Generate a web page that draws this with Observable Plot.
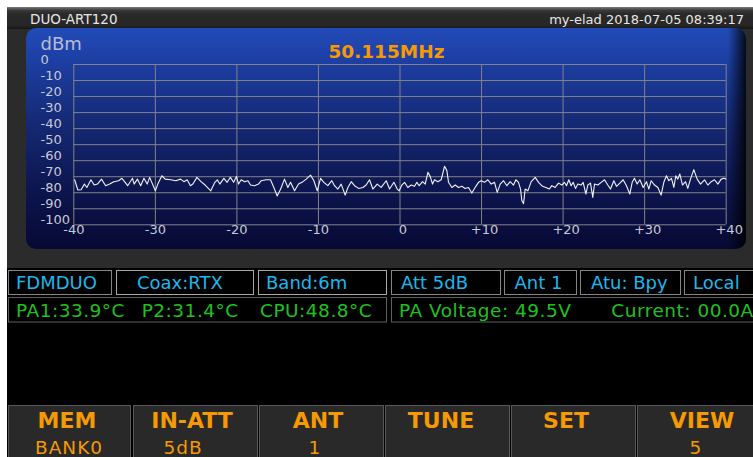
<!DOCTYPE html>
<html>
<head>
<meta charset="utf-8">
<script src="https://cdn.jsdelivr.net/npm/d3@7"></script>
<script src="https://cdn.jsdelivr.net/npm/@observablehq/plot@0.6"></script>
<style>
  html, body { margin: 0; padding: 0; background: #ffffff; }
  #wrap { position: relative; width: 753px; height: 457px; overflow: hidden; font-family: "DejaVu Sans", sans-serif; }
  #ui { position: absolute; left: 0; top: 0; }
  #chart { position: absolute; left: 27px; top: 28px; }
</style>
</head>
<body>
<div id="wrap"><svg id="ui" width="753" height="457"></svg><div id="chart"></div></div>
<script>
// ---------- data ----------
const freqMHzOffset = [
  -39.9,-39.5,-39.1,-38.7,-38.4,-37.9,-37.5,-37.1,-36.6,-36.1,-35.6,-35.1,-34.5,-34.1,-33.7,-33.4,-32.8,-32.6,-32.2,-31.8,
  -31.4,-31.0,-30.7,-30.0,-29.7,-29.2,-28.8,-28.1,-27.5,-26.9,-26.5,-26.1,-25.7,-25.4,-24.9,-24.4,-23.9,-23.2,-22.7,-22.4,
  -22.1,-21.6,-21.2,-20.8,-20.4,-20.05,
  -19.8,-19.47,-19.06,-18.65,-18.33,-17.84,-17.35,-17.02,-16.41,-15.88,-15.47,-15.06,-14.65,-14.16,-13.75,-13.42,-12.93,-12.44,
  -11.91,-11.5,-10.97,-10.56,-10.15,-9.74,-9.34,-8.85,-8.36,-8.03,-7.62,-7.21,-6.72,-6.39,-5.98,-5.58,-5.08,-4.55,-4.15,-3.74,
  -3.33,-2.8,-2.31,-1.69,-1.28,-0.75,-0.34,
  -0.10,0.23,0.56,0.96,1.37,1.78,2.07,2.35,2.76,3.09,3.42,3.70,3.99,4.23,4.64,5.05,5.46,5.75,5.95,6.36,6.77,7.18,7.59,7.99,
  8.40,8.81,9.30,9.63,9.96,10.37,10.77,11.18,11.59,11.92,12.29,12.70,13.10,13.51,13.92,14.21,14.53,14.78,14.94,15.15,15.35,
  15.68,16.09,16.58,16.99,17.48,17.89,18.30,18.62,19.03,19.44,19.85,
  20.17,20.42,20.70,20.99,21.23,21.52,21.81,22.21,22.46,22.79,23.03,23.36,23.64,23.85,24.26,24.67,25.08,25.48,25.81,26.22,
  26.55,26.96,27.36,27.77,28.18,28.47,28.75,29.08,29.41,29.82,30.23,30.51,30.80,31.21,31.62,32.02,32.35,32.68,32.96,33.29,
  33.58,33.82,34.07,34.31,34.64,35.01,35.29,35.62,36.03,36.44,36.85,37.34,37.75,38.16,38.57,38.98,39.39,39.71,39.95
];
const levelDbm = [
  -71.9,-78.3,-78.1,-74.6,-76.7,-71.9,-75.2,-74.6,-71.5,-75.6,-74.6,-73.1,-72.5,-71.0,-73.5,-75.6,-71.0,-74.6,-71.5,-75.6,
  -71.0,-74.6,-70.4,-78.8,-74.6,-69.4,-71.5,-71.9,-72.5,-71.5,-73.1,-71.9,-75.6,-74.6,-70.4,-73.1,-75.2,-78.8,-73.5,-71.9,
  -74.6,-71.0,-73.5,-70.4,-73.5,-69.8,
  -74.6,-71.9,-73.1,-72.5,-75.2,-75.6,-74.6,-72.5,-71.9,-71.9,-76.7,-82.0,-77.8,-71.5,-76.7,-73.5,-78.8,-74.6,
  -73.1,-71.5,-69.0,-72.5,-78.8,-71.0,-73.5,-75.6,-72.5,-75.6,-77.7,-74.6,-81.5,-76.7,-73.1,-75.6,-77.3,-76.7,-75.2,-71.9,
  -77.7,-74.6,-76.7,-72.5,-77.7,-73.5,-77.7,
  -78.8,-75.2,-73.5,-76.7,-75.2,-76.0,-73.5,-75.6,-73.1,-74.6,-67.3,-69.8,-74.6,-71.9,-73.1,-71.9,-63.5,-66.2,-73.5,-76.7,-75.2,-76.7,-76.0,-77.3,
  -76.7,-80.2,-76.0,-73.5,-72.5,-73.5,-71.9,-74.6,-73.5,-79.8,-74.6,-72.5,-75.6,-73.1,-75.2,-71.9,-73.5,-77.7,-84.9,-86.8,-77.7,
  -78.8,-73.1,-70.4,-73.5,-76.0,-76.7,-77.7,-75.6,-76.7,-74.0,-75.2,
  -73.5,-75.6,-71.9,-75.6,-73.5,-77.3,-74.6,-75.2,-73.5,-80.8,-75.2,-74.0,-82.9,-74.6,-75.2,-73.5,-71.9,-75.2,-77.7,-72.5,
  -76.0,-74.0,-71.9,-75.6,-80.8,-73.5,-71.0,-74.6,-71.9,-76.7,-73.1,-77.7,-72.5,-75.2,-76.7,-81.5,-73.5,-69.4,-72.5,-71.0,
  -76.7,-69.4,-71.5,-68.3,-75.2,-73.1,-77.3,-71.5,-65.6,-71.5,-74.6,-71.9,-75.2,-73.1,-71.9,-74.6,-71.5,-71.0,-71.5
];
const xTicks = [-40, -30, -20, -10, 0, 10, 20, 30, 40];
const xTickLabels = ["-40", "-30", "-20", "-10", "0", "+10", "+20", "+30", "+40"];
const yTicks = [0, -10, -20, -30, -40, -50, -60, -70, -80, -90, -100];
const yTickLabels = ["0", "-10", "-20", "-30", "-40", "-50", "-60", "-70", "-80", "-90", "-100"];
const unitLabel = "dBm";
const centerFreq = "50.115MHz";
const deviceName = "DUO-ART120";
const stampText = "my-elad 2018-07-05 08:39:17";
const statusLabels = ["FDMDUO", "Coax:RTX", "Band:6m", "Att 5dB", "Ant 1", "Atu: Bpy", "Local"];
const sensorLabels = ["PA1:33.9°C", "P2:31.4°C", "CPU:48.8°C", "PA Voltage: 49.5V", "Current: 00.0A"];
const buttonTitles = ["MEM", "IN-ATT", "ANT", "TUNE", "SET", "VIEW"];
const buttonValues = ["BANK0", "5dB", "1", "", "", "5"];

// ---------- UI frame ----------
const ui = d3.select("#ui");
const defs = ui.append("defs");
const pg = defs.append("linearGradient").attr("id", "panelGrad").attr("x1", 0).attr("y1", 0).attr("x2", 0).attr("y2", 1);
[[0, "#224bb8"], [0.18, "#1c3c9e"], [0.45, "#142872"], [0.72, "#0d1650"], [1, "#070934"]]
  .forEach(([o, c]) => pg.append("stop").attr("offset", o).attr("stop-color", c));
const sg = defs.append("linearGradient").attr("id", "shadeGrad").attr("x1", 0).attr("y1", 0).attr("x2", 1).attr("y2", 0);
[[0, 0], [0.975, 0], [1, 0.85]].forEach(([o, a]) => sg.append("stop").attr("offset", o).attr("stop-color", "#000").attr("stop-opacity", a));
const tg = defs.append("linearGradient").attr("id", "topGrad").attr("x1", 0).attr("y1", 0).attr("x2", 0).attr("y2", 1);
[[0, "#7a7a7a"], [0.15, "#3a3a3a"], [0.3, "#2a2a2a"], [0.85, "#262626"], [1, "#151515"]]
  .forEach(([o, c]) => tg.append("stop").attr("offset", o).attr("stop-color", c));

ui.append("rect").attr("x", 7).attr("y", 7).attr("width", 746).attr("height", 450).attr("fill", "#000");
ui.append("rect").attr("x", 7).attr("y", 7).attr("width", 746).attr("height", 261).attr("fill", "#2b2b2b");
ui.append("rect").attr("x", 7).attr("y", 7).attr("width", 746).attr("height", 22).attr("fill", "url(#topGrad)");
ui.append("text").attr("x", 30).attr("y", 24).attr("font-size", 13.5).attr("fill", "#e6e6e6").text(deviceName);
ui.append("text").attr("x", 744).attr("y", 24).attr("text-anchor", "end").attr("font-size", 13).attr("fill", "#e6e6e6").text(stampText);
ui.append("rect").attr("x", 26).attr("y", 28).attr("width", 720).attr("height", 221).attr("rx", 10).attr("fill", "url(#panelGrad)");
ui.append("rect").attr("x", 26).attr("y", 28).attr("width", 720).attr("height", 221).attr("rx", 10).attr("fill", "url(#shadeGrad)");

// status row
const row1 = [[8, 111, 16], [116, 253, 137], [258, 386, 266], [391, 500, 401], [504, 576, 514.5], [580, 680, 591], [684, 770, 693]];
row1.forEach(([a, b, t], i) => {
  ui.append("rect").attr("x", a + 0.5).attr("y", 270.5).attr("width", b - a).attr("height", 24).attr("fill", "#000")
    .attr("stroke", i === 1 || i === 2 ? "#a8a8a8" : "#858585").attr("stroke-width", 1);
  ui.append("text").attr("x", t).attr("y", 289.3).attr("font-size", 18).attr("fill", "#1cb8ec").text(statusLabels[i]);
});
[[8, 386], [391, 770]].forEach(([a, b]) => {
  ui.append("rect").attr("x", a + 0.5).attr("y", 297.5).attr("width", b - a).attr("height", 24.5).attr("fill", "#000")
    .attr("stroke", "#5e5e5e").attr("stroke-width", 1);
});
[16, 141.7, 260, 399, 611.3].forEach((t, i) => {
  ui.append("text").attr("x", t).attr("y", 316.7).attr("font-size", 18.5).attr("letter-spacing", 0.5).attr("fill", "#1ec21e").text(sensorLabels[i]);
});

// buttons
const btn = [[8, 130, 67, 69], [133, 257, 192, 183], [259, 383, 318, 315], [385, 509, 441, 447], [511, 635, 566, 573], [637, 770, 702, 696]];
btn.forEach(([a, b, c1, c2], i) => {
  ui.append("rect").attr("x", a + 0.5).attr("y", 405.5).attr("width", b - a).attr("height", 60).attr("fill", "#292929")
    .attr("stroke", "#585858").attr("stroke-width", 1);
  ui.append("text").attr("x", c1).attr("y", 428.3).attr("text-anchor", "middle").attr("font-size", 22).attr("font-weight", "bold")
    .attr("fill", "#f59a05").text(buttonTitles[i]);
  ui.append("text").attr("x", c2).attr("y", 454).attr("text-anchor", "middle").attr("font-size", 18.5).attr("letter-spacing", 1)
    .attr("fill", "#f59a05").text(buttonValues[i]);
});

// ---------- chart ----------
const spectrum = freqMHzOffset.map((f, i) => ({f, db: levelDbm[i]}));
const posIdx = xTicks.map((d, i) => i).filter(i => xTicks[i] >= 0);
const negIdx = xTicks.map((d, i) => i).filter(i => xTicks[i] < 0);
const labelFill = "#c8cad6";
const chart = Plot.plot({
  width: 719, height: 222,
  marginLeft: 46.3, marginRight: 20.3, marginTop: 36, marginBottom: 25.7,
  x: {domain: [-40, 40], axis: null},
  y: {domain: [-100, 0], axis: null},
  style: {background: "transparent", fontFamily: "DejaVu Sans", overflow: "visible"},
  marks: [
    Plot.ruleX(xTicks, {stroke: "#82828a", strokeWidth: 1}),
    Plot.ruleY(yTicks, {stroke: "#82828a", strokeWidth: 1}),
    Plot.line(spectrum, {x: "f", y: "db", stroke: "#f2f2f2", strokeWidth: 1.1}),
    Plot.text(yTicks, {y: d => d, text: (d, i) => yTickLabels[i], frameAnchor: "left", textAnchor: "start", dx: -33.3, dy: -4.5, fill: labelFill, fontSize: 13}),
    Plot.text(negIdx, {x: i => xTicks[i], text: i => xTickLabels[i], frameAnchor: "bottom", dy: 9.5, fill: labelFill, fontSize: 13}),
    Plot.text(posIdx, {x: i => xTicks[i], text: i => xTickLabels[i], frameAnchor: "bottom", dx: 3, dy: 9.5, fill: labelFill, fontSize: 13}),
    Plot.text([unitLabel], {text: d => d, frameAnchor: "top-left", textAnchor: "start", lineAnchor: "bottom", dx: -33.3, dy: -15, fill: "#b9bdd0", fontSize: 18}),
    Plot.text([centerFreq], {text: d => d, frameAnchor: "top", lineAnchor: "bottom", dx: -13.5, dy: -7, fill: "#f59a05", fontSize: 18.5, fontWeight: "bold"})
  ]
});
document.getElementById("chart").appendChild(chart);
</script>
</body>
</html>
